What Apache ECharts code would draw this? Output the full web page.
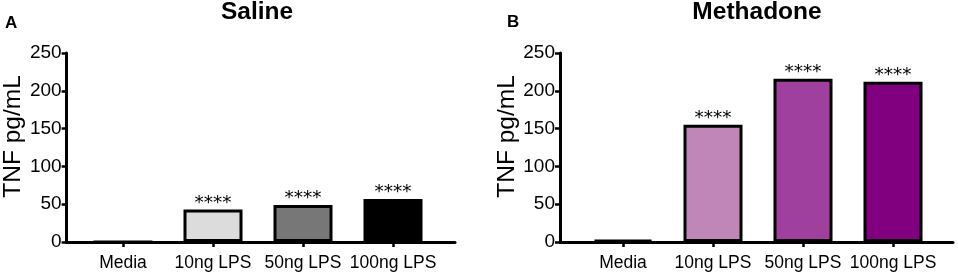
<!DOCTYPE html>
<html>
<head>
<meta charset="utf-8">
<script src="https://cdn.jsdelivr.net/npm/echarts@6/dist/echarts.min.js"></script>
<style>
  html, body { margin: 0; padding: 0; background: #fff; }
  #chart { width: 958px; height: 275px; }
</style>
</head>
<body>
<div id="chart"></div>
<script>
const categories = ['Media', '10ng LPS', '50ng LPS', '100ng LPS'];
const salineValues = [0, 43, 49, 57];
const methadoneValues = [2.5, 155, 216, 212];
const stars = ['', '****', '****', '****'];
const yTicks = [0, 50, 100, 150, 200, 250];

const salineColors = ['#ffffff', '#dcdcdc', '#777777', '#000000'];
const methadoneColors = ['#000000', '#c086b8', '#a0409e', '#800080'];

const font = 'Liberation Sans, Arial, Helvetica, sans-serif';
const chart = echarts.init(document.getElementById('chart'));

// one grid carries the long axis lines, a narrower one the bars and category ticks
const grids = [
  { left: 63, right: 503, top: 53, bottom: 33 },
  { left: 78, right: 520, top: 53, bottom: 33 },
  { left: 560, right: 5, top: 53, bottom: 33 },
  { left: 578, right: 20, top: 53, bottom: 33 }
];

function lineX(gi) {
  return {
    gridIndex: gi, type: 'value', min: 0, max: 1,
    axisLine: { show: true, lineStyle: { color: '#000', width: 3 } },
    axisTick: { show: false }, axisLabel: { show: false }, splitLine: { show: false }
  };
}
function catX(gi) {
  return {
    gridIndex: gi, type: 'category', data: categories,
    axisLine: { show: false },
    axisTick: { show: true, alignWithLabel: true, length: 5, lineStyle: { color: '#000', width: 2.5 } },
    axisLabel: { color: '#000', fontSize: 17.5, fontFamily: font, margin: 12, interval: 0 }
  };
}
function mainY(gi) {
  return {
    gridIndex: gi, type: 'value', min: yTicks[0], max: yTicks[yTicks.length - 1], interval: 50,
    name: 'TNF pg/mL', nameLocation: 'middle', nameGap: 38,
    nameTextStyle: { color: '#000', fontSize: 24.5, fontFamily: font, padding: [0, 0, 0, 22] },
    axisLine: { show: true, lineStyle: { color: '#000', width: 3 } },
    axisTick: { show: true, length: 5, lineStyle: { color: '#000', width: 2.5 } },
    axisLabel: { color: '#000', fontSize: 19, fontFamily: font, margin: 5 },
    splitLine: { show: false }
  };
}
function hiddenY(gi) {
  return { gridIndex: gi, type: 'value', min: 0, max: 250, show: false };
}
function bars(xi, yi, values, colors) {
  return {
    type: 'bar', xAxisIndex: xi, yAxisIndex: yi, barWidth: 59,
    data: values.map((v, i) => ({
      value: v,
      itemStyle: { color: colors[i], borderColor: '#000', borderWidth: 3 }
    })),
    label: {
      show: true, position: 'top', distance: -3,
      formatter: p => stars[p.dataIndex],
      color: '#000', fontSize: 18.5, fontFamily: 'DejaVu Sans'
    }
  };
}

chart.setOption({
  animation: false,
  title: [
    { text: 'Saline', left: 257, top: 0, textAlign: 'center', padding: 0,
      textStyle: { fontSize: 24.5, fontWeight: 'bold', color: '#000', fontFamily: font } },
    { text: 'Methadone', left: 757, top: 0, textAlign: 'center', padding: 0,
      textStyle: { fontSize: 24.5, fontWeight: 'bold', color: '#000', fontFamily: font } },
    { text: 'A', left: 5, top: 15, padding: 0,
      textStyle: { fontSize: 17, fontWeight: 'bold', color: '#000', fontFamily: font } },
    { text: 'B', left: 507, top: 14, padding: 0,
      textStyle: { fontSize: 17, fontWeight: 'bold', color: '#000', fontFamily: font } }
  ],
  grid: grids,
  xAxis: [lineX(0), catX(1), lineX(2), catX(3)],
  yAxis: [mainY(0), hiddenY(1), mainY(2), hiddenY(3)],
  series: [
    bars(1, 1, salineValues, salineColors),
    bars(3, 3, methadoneValues, methadoneColors)
  ]
});
</script>
</body>
</html>
